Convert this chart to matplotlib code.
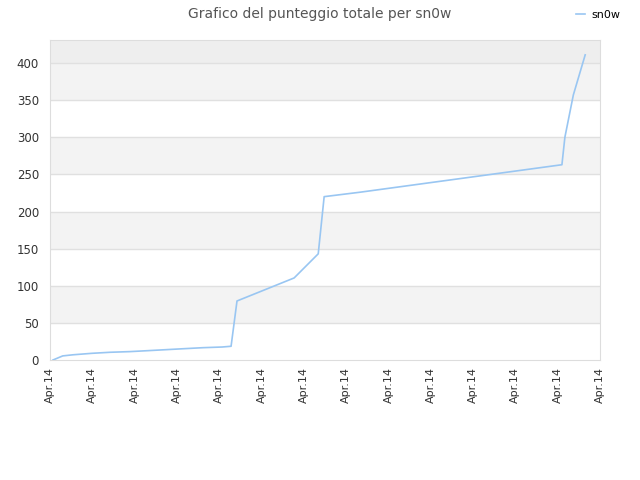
import numpy as np
import matplotlib.pyplot as plt

# score over time, x in units of tick spacing
pos = [0.07, 0.30, 0.54, 0.99, 1.42, 1.89, 2.32, 2.77, 3.19, 3.62, 4.07, 4.28,
       4.42, 5.77, 6.34, 6.48, 7.33, 12.10, 12.17, 12.37, 12.65]
score = [0, 5.5, 7, 9, 10.4, 11.3, 12.6, 14, 15.3, 16.6, 17.5, 18.5,
         79.5, 110.5, 143, 220, 226, 263, 300, 357, 411]
tick_labels = ["Apr.14"] * 14

fig = plt.figure(figsize=(6.4, 4.8), dpi=100)
ax = fig.add_axes([50 / 640, 120 / 480, 550 / 640, 320 / 480])

ymax = 431
# alternating bands
for lo in range(50, 400, 100):
    ax.axhspan(lo, lo + 50, color="#f3f3f3", zorder=0, lw=0)
ax.axhspan(400, ymax, color="#eeeeee", zorder=0, lw=0)
for yv in range(50, 401, 50):
    ax.axhline(yv, color="#e0e0e0", lw=1, zorder=1)

ax.plot(pos, score, color="#99c6f2", lw=1.2, label="sn0w", zorder=3)

ax.set_xlim(0, 13)
ax.set_ylim(0, ymax)
ax.set_xticks(np.arange(14))
ax.set_xticklabels(tick_labels, rotation=90, fontsize=8, color="#333333")
ax.set_yticks(range(0, 401, 50))
ax.tick_params(axis="y", length=0, labelsize=8.5, labelcolor="#333333", pad=8)
ax.tick_params(axis="x", length=0, pad=5)
for s in ax.spines.values():
    s.set_color("#dddddd")

fig.suptitle("Grafico del punteggio totale per sn0w", fontsize=10, color="#555555", y=0.985)
fig.legend(loc="upper right", bbox_to_anchor=(0.985, 1.0), frameon=False, fontsize=8,
           handlelength=0.8, handletextpad=0.6)

fig.savefig("out.png")
